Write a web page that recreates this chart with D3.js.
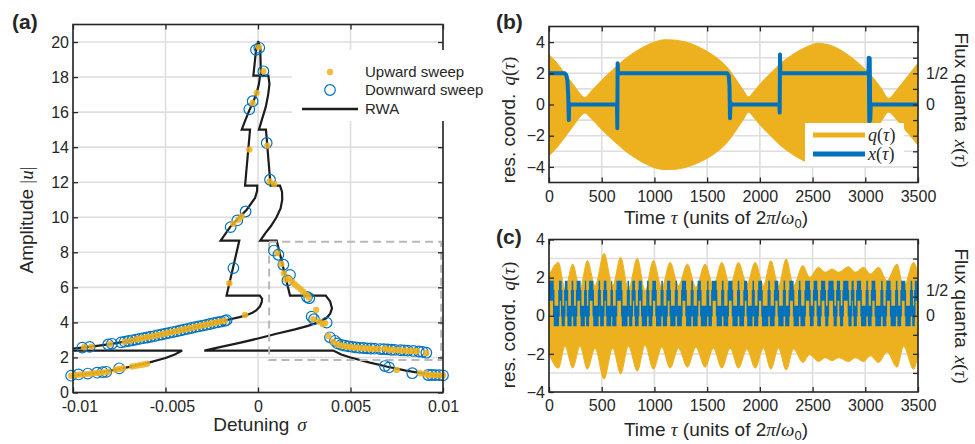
<!DOCTYPE html>
<html>
<head>
<meta charset="utf-8">
<script src="https://cdn.jsdelivr.net/npm/d3@7/dist/d3.min.js"></script>
<style>
  html, body { margin: 0; padding: 0; background: #fff; }
  svg { display: block; }
</style>
</head>
<body>
<svg id="fig" width="975" height="444"></svg>
<script>
// ================= (a) amplitude response vs detuning =================
const sigmaTicks = [-0.01, -0.005, 0, 0.005, 0.01];
const sigmaTickLabels = ["-0.01", "-0.005", "0", "0.005", "0.01"];
const ampTicks = [0, 2, 4, 6, 8, 10, 12, 14, 16, 18, 20];
const ampTickLabels = ["0", "2", "4", "6", "8", "10", "12", "14", "16", "18", "20"];

// RWA solution: lower-left branch closing onto the cut at |u| ~ 2.4
const rwaLowerLeft = [
  [-0.0102, 0.92], [-0.01, 0.96], [-0.009, 1.09], [-0.008, 1.24], [-0.007, 1.45],
  [-0.006, 1.68], [-0.005, 1.97], [-0.0045, 2.17], [-0.0041, 2.39], [-0.0102, 2.39]
];
// RWA solution: main branch, traced from the left edge round the tongue
const rwaMain = [
  [-0.0102, 2.49], [-0.0095, 2.56], [-0.009, 2.62], [-0.008, 2.76], [-0.007, 2.94],
  [-0.006, 3.14], [-0.005, 3.36], [-0.004, 3.59], [-0.003, 3.82], [-0.002, 4.06],
  [-0.0015, 4.18], [-0.001, 4.3], [-0.0006, 4.42], [-0.0003, 4.55], [-0.0001, 4.68],
  [0.0001, 4.9], [0.0002, 5.15], [0.00022, 5.35], [0.0001, 5.53],
  [-0.0017, 5.53], [-0.00101, 8.67], [-0.00202, 8.67],
  [-0.00151, 9.44], [-0.00106, 9.95], [-0.00061, 10.43], [-0.00016, 11.1], [-0.00005, 11.5], [-0.00004, 11.8],
  [-0.0007, 11.8], [-0.00043, 15.0], [-0.00088, 15.0],
  [-0.0007, 15.5], [-0.00047, 16.1], [-0.00025, 16.6], [-0.00007, 17.1], [0.00005, 17.6], [0.00011, 18.08],
  [-0.00025, 18.08], [-0.0001, 19.6], [0.00002, 20.05], [0.00012, 19.6], [0.00016, 18.08],
  [0.00056, 18.08], [0.00062, 17.6], [0.00055, 17.0], [0.00042, 16.3], [0.00022, 15.6], [0.00005, 15.0],
  [0.00043, 15.0], [0.00068, 11.8],
  [0.00119, 11.8], [0.0013, 11.45], [0.00131, 11.0], [0.00122, 10.5], [0.001, 10.0], [0.0007, 9.5], [0.0004, 9.1], [0.00012, 8.67],
  [0.00101, 8.67], [0.00173, 5.53],
  [0.00366, 5.53], [0.0039, 5.2], [0.004, 4.8], [0.0039, 4.5], [0.0037, 4.25], [0.0033, 4.02],
  [0.0027, 3.8], [0.002, 3.6], [0.001, 3.35], [0, 3.08], [-0.001, 2.83], [-0.002, 2.6], [-0.0029, 2.39],
  [0.00407, 2.39], [0.0045, 2.17], [0.005, 2.0], [0.006, 1.72], [0.007, 1.47], [0.008, 1.25],
  [0.009, 1.07], [0.0102, 0.9]
];

const upwardSweep = [
  [-0.0101, 0.96], [-0.0099, 0.99], [-0.0097, 1.01], [-0.0095, 1.03], [-0.0093, 1.05], [-0.0091, 1.07],
  [-0.0089, 1.09], [-0.0087, 1.11], [-0.0085, 1.13], [-0.0083, 1.15], [-0.0081, 1.18],
  [-0.0077, 1.3], [-0.0075, 1.34], [-0.0073, 1.38],
  [-0.0068, 1.48], [-0.0066, 1.52], [-0.0064, 1.56], [-0.0062, 1.6], [-0.006, 1.64],
  [-0.0094, 2.58], [-0.009, 2.62], [-0.008, 2.76], [-0.0072, 2.9], [-0.0069, 2.96],
  [-0.0066, 3.03], [-0.0064, 3.07], [-0.0062, 3.11], [-0.006, 3.15], [-0.0058, 3.19], [-0.0056, 3.23],
  [-0.0054, 3.28], [-0.0052, 3.32], [-0.005, 3.37], [-0.0048, 3.41], [-0.0046, 3.46], [-0.0044, 3.5],
  [-0.0042, 3.55], [-0.004, 3.6], [-0.0038, 3.64], [-0.0036, 3.69], [-0.0034, 3.74], [-0.0032, 3.78],
  [-0.003, 3.83], [-0.0028, 3.87], [-0.0026, 3.92], [-0.0024, 3.97], [-0.0022, 4.01], [-0.002, 4.06],
  [-0.0018, 4.1], [-0.0007, 4.42],
  [-0.00155, 6.24], [-0.00133, 9.63], [-0.00106, 9.86], [-0.00088, 10.05], [-0.00047, 13.86],
  [-0.00029, 16.52], [-0.00007, 17.1], [0.00005, 19.7], [0.00029, 18.33], [0.0005, 14.09],
  [0.00063, 12.05], [0.00088, 11.9],
  [0.00104, 7.95], [0.00126, 7.33], [0.0014, 6.8], [0.00152, 6.45], [0.00168, 6.5], [0.00185, 6.32],
  [0.002, 6.17], [0.00215, 6.03], [0.0023, 5.9], [0.00245, 5.75], [0.0026, 5.58], [0.00275, 5.42],
  [0.00314, 4.71], [0.00299, 4.18], [0.00331, 4.05], [0.0035, 3.91], [0.00362, 3.95],
  [0.0038, 3.23], [0.00407, 2.9], [0.0043, 2.74], [0.0045, 2.68], [0.0047, 2.64], [0.0049, 2.61],
  [0.0051, 2.58], [0.0053, 2.56], [0.0055, 2.54], [0.0057, 2.53], [0.0059, 2.51], [0.0061, 2.5],
  [0.0063, 2.49], [0.0065, 2.48], [0.00685, 2.52], [0.007, 2.45], [0.0072, 2.43], [0.0074, 2.42],
  [0.0076, 2.41], [0.0078, 2.4], [0.008, 2.38], [0.0082, 2.37], [0.0084, 2.36], [0.0086, 2.35], [0.0091, 2.25],
  [0.0075, 1.29], [0.00877, 1.1], [0.00904, 1.07], [0.0092, 1.0], [0.0094, 1.0], [0.0096, 0.99],
  [0.0098, 0.98], [0.01, 0.98]
];

const downwardSweep = [
  [-0.0101, 0.96], [-0.0097, 1.03], [-0.0092, 1.08], [-0.0087, 1.13], [-0.0084, 1.16], [-0.0082, 1.18], [-0.0075, 1.38],
  [-0.0095, 2.56], [-0.0091, 2.6], [-0.0081, 2.74], [-0.0079, 2.78],
  [-0.0074, 2.86], [-0.0072, 2.9], [-0.007, 2.94], [-0.0068, 2.98], [-0.0066, 3.02], [-0.0064, 3.06],
  [-0.0062, 3.1], [-0.006, 3.14], [-0.0058, 3.18], [-0.0056, 3.22], [-0.0054, 3.27], [-0.0052, 3.31],
  [-0.005, 3.36], [-0.0048, 3.4], [-0.0046, 3.45], [-0.0044, 3.49], [-0.0042, 3.54], [-0.004, 3.59],
  [-0.0038, 3.63], [-0.0036, 3.68], [-0.0034, 3.73], [-0.0032, 3.77], [-0.003, 3.82], [-0.0028, 3.86],
  [-0.0026, 3.91], [-0.0024, 3.96], [-0.0022, 4.0], [-0.002, 4.05], [-0.0018, 4.09], [-0.0017, 4.13],
  [-0.00133, 7.1], [-0.00148, 9.44], [-0.00112, 9.82], [-0.00067, 10.33], [-0.00047, 16.16],
  [-0.00029, 16.62], [-0.00011, 19.55], [0.00007, 19.67], [0.00029, 18.33], [0.00047, 14.24], [0.00065, 12.14],
  [0.00086, 8.1], [0.0011, 7.86], [0.00137, 7.29], [0.00173, 6.71], [0.00159, 6.39], [0.00265, 5.45], [0.00277, 5.38],
  [0.0029, 4.33], [0.00303, 4.18], [0.00371, 3.99],
  [0.00389, 3.15], [0.00416, 2.95], [0.0043, 2.8], [0.0045, 2.72], [0.0047, 2.67], [0.0049, 2.63],
  [0.0051, 2.6], [0.0053, 2.57], [0.0055, 2.55], [0.0057, 2.54], [0.0059, 2.52], [0.0061, 2.51],
  [0.0063, 2.5], [0.0066, 2.48], [0.0068, 2.47], [0.007, 2.46], [0.0072, 2.44], [0.0074, 2.43],
  [0.0077, 2.41], [0.0079, 2.4], [0.0081, 2.39], [0.0084, 2.37], [0.0087, 2.34], [0.0089, 2.32], [0.0091, 2.27],
  [0.00686, 1.51], [0.00708, 1.43], [0.00834, 1.1], [0.0092, 1.0], [0.0094, 1.0], [0.0096, 0.99],
  [0.0098, 0.99], [0.01, 0.98]
];

// dashed region marked on the right-hand branch
const markedSigma = [0.0006, 0.0099];
const markedAmp = [1.85, 8.6];

// ================= (b) and (c) time traces =================
const timeTicks = [0, 500, 1000, 1500, 2000, 2500, 3000, 3500];
const timeTickLabels = ["0", "500", "1000", "1500", "2000", "2500", "3000", "3500"];
const qTicksB = [-4, -2, 0, 2, 4];
const qTicksC = [-4, -2, 0, 2, 4];
const qTickLabels = ["\u22124", "\u22122", "0", "2", "4"];
const fluxTicks = [0, 0.5];
const fluxTickLabels = ["0", "1/2"];

// (b) envelope of the resonator oscillation q(tau)
const tauB = [0, 50, 100, 150, 200, 250, 300, 340, 400, 500, 600, 650, 700, 800, 900, 1000, 1100, 1200,
  1300, 1400, 1500, 1600, 1700, 1750, 1800, 1850, 1890, 1950, 2000, 2100, 2200, 2300, 2400, 2500, 2550, 2600,
  2700, 2800, 2900, 3000, 3050, 3100, 3150, 3220, 3300, 3400, 3500];
const qUpperB = [3.2, 2.85, 2.45, 2.0, 1.55, 1.1, 0.65, 0.45, 0.85, 1.55, 2.2, 2.5, 2.8, 3.3, 3.7, 4.0, 4.15, 4.12,
  4.0, 3.75, 3.4, 2.95, 2.3, 1.85, 1.35, 0.85, 0.5, 0.9, 1.3, 2.0, 2.65, 3.15, 3.55, 3.85, 3.93, 3.9,
  3.72, 3.35, 2.85, 2.25, 1.9, 1.5, 1.05, 0.4, 0.95, 1.8, 2.65];
const qLowerB = [-3.3, -2.95, -2.55, -2.1, -1.65, -1.2, -0.75, -0.55, -0.9, -1.6, -2.25, -2.55, -2.85, -3.35, -3.75, -4.05, -4.17, -4.15,
  -4.02, -3.78, -3.45, -3.0, -2.35, -1.9, -1.4, -0.9, -0.5, -0.9, -1.3, -2.0, -2.65, -3.15, -3.55, -3.82, -3.9, -3.88,
  -3.7, -3.35, -2.85, -2.3, -1.95, -1.55, -1.1, -0.5, -1.0, -1.8, -2.6];

// (b) flux x(tau), in flux quanta
const tauXB = [0, 150, 165, 175, 182, 188, 192, 200, 645, 648, 651, 655, 1690, 1705, 1712, 1717, 1722, 1730,
  2185, 2188, 2191, 2195, 3030, 3033, 3038, 3042, 3047, 3052, 3500];
const fluxB = [0.5, 0.5, 0.47, 0.38, 0.15, -0.25, 0.02, 0, 0, -0.38, 0.66, 0.5, 0.5, 0.46, 0.3, -0.22, 0.03, 0,
  0, -0.13, 0.8, 0.5, 0.5, 0.75, -0.28, 0.74, -0.25, 0, 0];

// (c) envelope of q(tau)
const tauC = [0, 89, 152, 225, 294, 364, 437, 522, 604, 680, 753, 838, 911, 990, 1070, 1149, 1228, 1313, 1393,
  1481, 1560, 1639, 1718, 1797, 1877, 1956, 2034, 2104, 2177, 2250, 2319, 2408, 2471, 2557, 2620, 2684, 2747,
  2841, 2905, 2984, 3047, 3126, 3206, 3301, 3363, 3458, 3500];
const qUpperC = [2.1, 2.8, 1.4, 2.71, 1.4, 2.89, 1.58, 3.27, 1.58, 3.07, 1.4, 3.01, 1.31, 2.89, 1.49, 2.8, 1.58,
  2.71, 1.49, 2.71, 1.58, 2.8, 1.58, 2.8, 1.66, 2.8, 1.58, 2.89, 1.58, 2.98, 1.58, 2.63, 2.01, 2.54, 2.28, 2.45,
  2.28, 2.57, 2.28, 2.54, 2.19, 2.54, 1.84, 2.71, 1.49, 2.8, 2.19];
const qLowerC = [-2.0, -2.75, -1.6, -2.75, -1.6, -2.8, -1.7, -3.32, -1.7, -3.05, -1.6, -2.9, -1.55, -2.8, -1.65,
  -2.75, -1.7, -2.7, -1.65, -2.7, -1.7, -2.75, -1.7, -2.75, -1.75, -2.75, -1.7, -2.8, -1.7, -2.85, -1.75, -2.45,
  -2.05, -2.4, -2.2, -2.35, -2.2, -2.4, -2.2, -2.4, -2.1, -2.45, -1.9, -2.7, -1.6, -2.8, -2.0];

// (c) intervals during which the flux sits near 1/2
const highStartC = [0, 95, 150, 215, 262, 340, 380, 470, 520, 590, 640, 745, 790, 850, 930, 980, 1065, 1120,
  1200, 1260, 1350, 1410, 1500, 1545, 1640, 1700, 1790, 1850, 1930, 1985, 2080, 2140, 2225, 2280, 2370, 2430,
  2510, 2580, 2650, 2730, 2790, 2870, 2920, 3010, 3060, 3150, 3200, 3290, 3340, 3430, 3470];
const highEndC = [45, 120, 175, 230, 300, 352, 420, 485, 545, 600, 690, 760, 815, 880, 945, 1015, 1080, 1150,
  1215, 1300, 1365, 1440, 1512, 1590, 1655, 1740, 1805, 1880, 1945, 2020, 2095, 2175, 2240, 2320, 2385, 2475,
  2545, 2620, 2700, 2760, 2840, 2890, 2960, 3025, 3095, 3165, 3240, 3305, 3380, 3445, 3500];

// ---------------------------------------------------------------
const INK = "#262626", GRID = "#dedede", ORANGE = "#EDB120", BLUE = "#0072BD";
const SANS = '"Liberation Sans", Arial, Helvetica, sans-serif';
const SERIF = '"Liberation Serif", "Times New Roman", serif';
const svg = d3.select("#fig");

function gridLines(g, x, y, xs, ys) {
  const [x0, x1] = x.range(), [y0, y1] = y.range();
  g.append("g").selectAll("line").data(xs).join("line")
    .attr("x1", d => x(d)).attr("x2", d => x(d)).attr("y1", y0).attr("y2", y1)
    .attr("stroke", GRID).attr("stroke-width", 1.6);
  g.append("g").selectAll("line").data(ys).join("line")
    .attr("y1", d => y(d)).attr("y2", d => y(d)).attr("x1", x0).attr("x2", x1)
    .attr("stroke", GRID).attr("stroke-width", 1.6);
}

function styleAxis(sel) {
  sel.select(".domain").remove();
  sel.selectAll(".tick line").attr("stroke", INK).attr("stroke-width", 1.3);
  sel.selectAll(".tick text").attr("fill", INK).attr("font-family", SANS).attr("font-size", 16);
}

function frame(g, x, y, o) {
  const [x0, x1] = x.range(), [yb, yt] = y.range();
  const bottom = g.append("g").attr("transform", `translate(0,${yb})`)
    .call(d3.axisBottom(x).tickValues(o.xTicks).tickFormat((d, i) => o.xLabels[i])
      .tickSizeInner(-5).tickSizeOuter(0).tickPadding(8)).call(styleAxis);
  // a leading minus sign pushes the number itself off-centre; nudge it back
  bottom.selectAll(".tick text").filter(function () { return this.textContent.startsWith("-"); })
    .attr("dx", "0.4em");
  g.append("g").attr("transform", `translate(0,${yt})`)
    .call(d3.axisTop(x).tickValues(o.xTicks).tickFormat("").tickSizeInner(-5).tickSizeOuter(0)).call(styleAxis);
  g.append("g").attr("transform", `translate(${x0},0)`)
    .call(d3.axisLeft(y).tickValues(o.yTicks).tickFormat((d, i) => o.yLabels[i])
      .tickSizeInner(-5).tickSizeOuter(0).tickPadding(4)).call(styleAxis);
  g.append("g").attr("transform", `translate(${x1},0)`)
    .call(d3.axisRight(y).tickValues(o.rightTicks).tickFormat("").tickSizeInner(-5).tickSizeOuter(0)).call(styleAxis);
  if (o.flux) {
    g.append("g").attr("transform", `translate(${x1},0)`)
      .call(d3.axisRight(o.flux).tickValues(fluxTicks).tickFormat((d, i) => fluxTickLabels[i])
        .tickSize(0).tickPadding(8)).call(styleAxis);
  }
  g.append("rect").attr("x", x0).attr("y", yt).attr("width", x1 - x0).attr("height", yb - yt)
    .attr("fill", "none").attr("stroke", INK).attr("stroke-width", 1.6);
}

function rich(parent, tx, ty, rot, size, parts, anchor = "middle") {
  const t = parent.append("text")
    .attr("transform", `translate(${tx},${ty}) rotate(${rot})`)
    .attr("text-anchor", anchor).attr("font-size", size).attr("fill", INK).attr("font-family", SANS);
  parts.forEach(p => {
    const s = t.append("tspan").text(p.t);
    if (p.m) s.attr("font-family", SERIF).attr("font-style", "italic");
    if (p.r) s.attr("font-family", SERIF);
    if (p.dx) s.attr("dx", p.dx);
    if (p.dy) s.attr("dy", p.dy);
    if (p.fs) s.attr("font-size", p.fs);
  });
  return t;
}

function clipRect(id, x, y) {
  const [x0, x1] = x.range(), [yb, yt] = y.range();
  svg.append("clipPath").attr("id", id).append("rect")
    .attr("x", x0).attr("y", yt).attr("width", x1 - x0).attr("height", yb - yt);
  return `url(#${id})`;
}

// ======================= panel (a) =======================
{
  const x = d3.scaleLinear().domain([-0.01, 0.01]).range([73, 443]);
  const y = d3.scaleLinear().domain([0, 21]).range([392.5, 24.5]);
  const g = svg.append("g");
  gridLines(g, x, y, sigmaTicks, ampTicks);
  const clip = clipRect("clipA", x, y);

  const line = d3.line().x(d => x(d[0])).y(d => y(d[1]));
  const lines = g.append("g").attr("clip-path", clip);
  [rwaLowerLeft, rwaMain].forEach(seg => {
    lines.append("path").attr("d", line(seg)).attr("fill", "none")
      .attr("stroke", "#1c1c1c").attr("stroke-width", 2.2).attr("stroke-linejoin", "miter");
  });

  g.append("rect")
    .attr("x", x(markedSigma[0])).attr("y", y(markedAmp[1]))
    .attr("width", x(markedSigma[1]) - x(markedSigma[0])).attr("height", y(markedAmp[0]) - y(markedAmp[1]))
    .attr("fill", "none").attr("stroke", "#b8b8b8").attr("stroke-width", 2).attr("stroke-dasharray", "8,5");

  g.append("g").selectAll("circle").data(downwardSweep).join("circle")
    .attr("cx", d => x(d[0])).attr("cy", d => y(d[1])).attr("r", 5.3)
    .attr("fill", "none").attr("stroke", BLUE).attr("stroke-width", 1.2);
  g.append("g").selectAll("circle").data(upwardSweep).join("circle")
    .attr("cx", d => x(d[0])).attr("cy", d => y(d[1])).attr("r", 3.2)
    .attr("fill", ORANGE).attr("fill-opacity", 0.85);

  frame(g, x, y, { xTicks: sigmaTicks, xLabels: sigmaTickLabels, yTicks: ampTicks, yLabels: ampTickLabels, rightTicks: ampTicks });

  // legend
  const lg = g.append("g");
  lg.append("rect").attr("x", 292).attr("y", 50).attr("width", 190).attr("height", 71).attr("fill", "#fff");
  lg.append("circle").attr("cx", 330).attr("cy", 72).attr("r", 3.2).attr("fill", ORANGE).attr("fill-opacity", 0.85);
  lg.append("circle").attr("cx", 330).attr("cy", 90).attr("r", 5.3).attr("fill", "none").attr("stroke", BLUE).attr("stroke-width", 1.2);
  lg.append("line").attr("x1", 302).attr("x2", 358).attr("y1", 109).attr("y2", 109).attr("stroke", "#1c1c1c").attr("stroke-width", 2.5);
  [["Upward sweep", 77], ["Downward sweep", 95], ["RWA", 114]].forEach(([t, yy]) => {
    lg.append("text").attr("x", 365).attr("y", yy).attr("font-family", SANS).attr("font-size", 15).attr("fill", INK).text(t);
  });

  rich(svg, 33, 220, -90, 19, [{ t: "Amplitude " }, { t: "|", r: true }, { t: "u", m: true }, { t: "|", r: true }]);
  rich(svg, 260, 431, 0, 19, [{ t: "Detuning" }, { t: "\u03c3", m: true, dx: 8 }]);
  svg.append("text").attr("x", 12).attr("y", 29).attr("font-family", SANS).attr("font-weight", "bold")
    .attr("font-size", 21).attr("fill", INK).text("(a)");
}

// ======================= panel (b) =======================
{
  const x = d3.scaleLinear().domain([0, 3500]).range([549, 918]);
  const y = d3.scaleLinear().domain([-5, 5]).range([182.5, 26.5]);
  const flux = d3.scaleLinear().domain([-1.25, 1.25]).range([182.5, 26.5]);
  const g = svg.append("g");
  gridLines(g, x, y, timeTicks, d3.range(-4, 5));
  const clip = clipRect("clipB", x, y);
  const idx = d3.range(tauB.length);
  g.append("path").attr("clip-path", clip)
    .attr("d", d3.area().x(i => x(tauB[i])).y0(i => y(qLowerB[i])).y1(i => y(qUpperB[i])).curve(d3.curveMonotoneX)(idx))
    .attr("fill", ORANGE).attr("stroke", ORANGE).attr("stroke-width", 1);
  g.append("path").attr("clip-path", clip)
    .attr("d", d3.line().x(i => x(tauXB[i])).y(i => flux(fluxB[i]))(d3.range(tauXB.length)))
    .attr("fill", "none").attr("stroke", BLUE).attr("stroke-width", 4).attr("stroke-linejoin", "round");

  frame(g, x, y, { xTicks: timeTicks, xLabels: timeTickLabels, yTicks: qTicksB, yLabels: qTickLabels,
    rightTicks: d3.range(-4, 5), flux });

  // legend
  const lg = g.append("g");
  lg.append("rect").attr("x", 805).attr("y", 123).attr("width", 99).attr("height", 43).attr("fill", "#fff");
  lg.append("line").attr("x1", 813).attr("x2", 865).attr("y1", 135).attr("y2", 135).attr("stroke", ORANGE).attr("stroke-width", 5);
  lg.append("line").attr("x1", 813).attr("x2", 865).attr("y1", 154).attr("y2", 154).attr("stroke", BLUE).attr("stroke-width", 5);
  rich(lg, 868, 141, 0, 18, [{ t: "q", m: true }, { t: "(", r: true }, { t: "\u03c4", m: true }, { t: ")", r: true }], "start");
  rich(lg, 868, 160, 0, 18, [{ t: "x", m: true }, { t: "(", r: true }, { t: "\u03c4", m: true }, { t: ")", r: true }], "start");

  rich(svg, 515, 120, -90, 19, [{ t: "res. coord." }, { t: "q", m: true, dx: 8 }, { t: "(", r: true }, { t: "\u03c4", m: true }, { t: ")", r: true }]);
  rich(svg, 955, 100, 90, 19, [{ t: "Flux quanta" }, { t: "x", m: true, dx: 8 }, { t: "(", r: true }, { t: "\u03c4", m: true }, { t: ")", r: true }]);
  rich(svg, 716, 224, 0, 19, [{ t: "Time " }, { t: "\u03c4", m: true }, { t: " (units of 2" }, { t: "\u03c0", m: true },
    { t: "/" }, { t: "\u03c9", m: true }, { t: "0", fs: 13, dy: 4 }, { t: ")", dy: -4 }]);
  svg.append("text").attr("x", 496).attr("y", 29).attr("font-family", SANS).attr("font-weight", "bold")
    .attr("font-size", 21).attr("fill", INK).text("(b)");
}

// ======================= panel (c) =======================
{
  const x = d3.scaleLinear().domain([0, 3500]).range([549, 918]);
  const y = d3.scaleLinear().domain([-4, 4]).range([392, 239.5]);
  const flux = d3.scaleLinear().domain([-1.525, 1.525]).range([392, 239.5]);
  const g = svg.append("g");
  gridLines(g, x, y, timeTicks, d3.range(-3, 4));
  const clip = clipRect("clipC", x, y);
  const idx = d3.range(tauC.length);
  g.append("path").attr("clip-path", clip)
    .attr("d", d3.area().x(i => x(tauC[i])).y0(i => y(qLowerC[i])).y1(i => y(qUpperC[i])).curve(d3.curveMonotoneX)(idx))
    .attr("fill", ORANGE).attr("stroke", ORANGE).attr("stroke-width", 1);

  // flux steps from the switching intervals, drawn as a noisy band
  const steps = [];
  highStartC.forEach((s, i) => {
    if (i === 0 && s > 0) steps.push([0, 0]);
    steps.push([s, 0.5]); steps.push([highEndC[i], 0]);
  });
  const band = d3.area().x(d => x(d[0]))
    .y0(d => flux(d[1] === 0 ? -0.21 : 0.3)).y1(d => flux(d[1] === 0 ? 0.2 : 0.7))
    .curve(d3.curveStepAfter);
  g.append("path").attr("clip-path", clip).attr("d", band(steps)).attr("fill", BLUE);
  g.append("path").attr("clip-path", clip)
    .attr("d", d3.line().x(d => x(d[0])).y(d => flux(d[1])).curve(d3.curveStepAfter)(steps))
    .attr("fill", "none").attr("stroke", BLUE).attr("stroke-width", 1.5);

  frame(g, x, y, { xTicks: timeTicks, xLabels: timeTickLabels, yTicks: qTicksC, yLabels: qTickLabels,
    rightTicks: d3.range(-3, 4), flux });

  rich(svg, 515, 325, -90, 19, [{ t: "res. coord." }, { t: "q", m: true, dx: 8 }, { t: "(", r: true }, { t: "\u03c4", m: true }, { t: ")", r: true }]);
  rich(svg, 955, 316, 90, 19, [{ t: "Flux quanta" }, { t: "x", m: true, dx: 8 }, { t: "(", r: true }, { t: "\u03c4", m: true }, { t: ")", r: true }]);
  rich(svg, 716, 436, 0, 19, [{ t: "Time " }, { t: "\u03c4", m: true }, { t: " (units of 2" }, { t: "\u03c0", m: true },
    { t: "/" }, { t: "\u03c9", m: true }, { t: "0", fs: 13, dy: 4 }, { t: ")", dy: -4 }]);
  svg.append("text").attr("x", 496).attr("y", 244).attr("font-family", SANS).attr("font-weight", "bold")
    .attr("font-size", 21).attr("fill", INK).text("(c)");
}
</script>
</body>
</html>
